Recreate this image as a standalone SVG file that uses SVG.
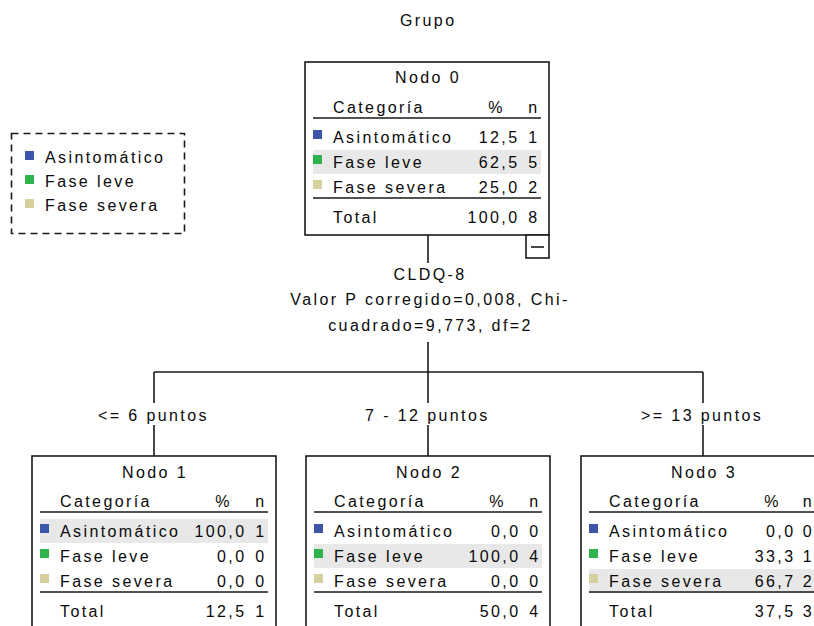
<svg xmlns="http://www.w3.org/2000/svg" width="814" height="626" viewBox="0 0 814 626">
<style>
text{font-family:"Liberation Sans",Arial,sans-serif;font-size:16px;letter-spacing:2.4px;fill:#0a0a0a}
.m{text-anchor:middle}
.e{text-anchor:end}
.box{fill:#fff;stroke:#1a1a1a;stroke-width:1.6}
.ln{stroke:#1a1a1a;stroke-width:1.6;fill:none}
.hl{fill:#e8e8e8}
.c1{fill:#3d55a8}
.c2{fill:#2db34c}
.c3{fill:#d6d09c}
</style>
<rect width="814" height="626" fill="#fff"/>
<text x="400" y="26">Grupo</text>

<g id="legend">
<rect x="11.5" y="133.5" width="173" height="100" fill="none" stroke="#1a1a1a" stroke-width="1.6" stroke-dasharray="7 5"/>
<rect class="c1" x="25" y="151" width="9" height="9"/><text x="45" y="163">Asintomático</text>
<rect class="c2" x="25" y="175" width="9" height="9"/><text x="45" y="187">Fase leve</text>
<rect class="c3" x="25" y="199" width="9" height="9"/><text x="45" y="211">Fase severa</text>
</g>

<g id="connectors">
<line class="ln" x1="428" y1="235" x2="428" y2="263"/>
<line class="ln" x1="428" y1="342" x2="428" y2="372"/>
<line class="ln" x1="154" y1="372" x2="703" y2="372"/>
<line class="ln" x1="154" y1="372" x2="154" y2="403"/>
<line class="ln" x1="154" y1="425" x2="154" y2="456"/>
<line class="ln" x1="428" y1="372" x2="428" y2="403"/>
<line class="ln" x1="428" y1="425" x2="428" y2="456"/>
<line class="ln" x1="703" y1="372" x2="703" y2="403"/>
<line class="ln" x1="703" y1="425" x2="703" y2="456"/>
<text class="m" x="430" y="280">CLDQ-8</text>
<text class="m" x="430" y="305">Valor P corregido=0,008, Chi-</text>
<text class="m" x="430.5" y="331">cuadrado=9,773, df=2</text>
<text x="98" y="421">&lt;= 6 puntos</text>
<text x="365" y="421">7 - 12 puntos</text>
<text x="641" y="421">&gt;= 13 puntos</text>
</g>

<g id="node0" transform="translate(305,62)">
<rect class="box" x="0" y="0" width="244" height="173"/>
<rect class="hl" x="8" y="88" width="228" height="24"/>
<text class="m" x="123" y="21">Nodo 0</text>
<text x="28" y="51">Categoría</text><text class="e" x="200" y="51">%</text><text class="e" x="234.5" y="51">n</text>
<line class="ln" x1="8" y1="56" x2="236" y2="56"/>
<rect class="c1" x="8" y="68" width="9" height="9"/><text x="28" y="81">Asintomático</text><text class="e" x="214.5" y="81">12,5</text><text class="e" x="234.5" y="81">1</text>
<rect class="c2" x="8" y="93" width="9" height="9"/><text x="28" y="106">Fase leve</text><text class="e" x="214.5" y="106">62,5</text><text class="e" x="234.5" y="106">5</text>
<rect class="c3" x="8" y="118" width="9" height="9"/><text x="28" y="131">Fase severa</text><text class="e" x="214.5" y="131">25,0</text><text class="e" x="234.5" y="131">2</text>
<line class="ln" x1="8" y1="136" x2="236" y2="136"/>
<text x="28" y="161">Total</text><text class="e" x="214.5" y="161">100,0</text><text class="e" x="234.5" y="161">8</text>
<rect class="box" x="221" y="173" width="23" height="23"/>
<line class="ln" x1="226" y1="185" x2="239" y2="185"/>
</g>

<g id="node1" transform="translate(32,456)">
<rect class="box" x="0" y="0" width="244" height="173"/>
<rect class="hl" x="8" y="63" width="228" height="24"/>
<text class="m" x="123" y="22">Nodo 1</text>
<text x="28" y="51">Categoría</text><text class="e" x="200" y="51">%</text><text class="e" x="234.5" y="51">n</text>
<line class="ln" x1="8" y1="56" x2="236" y2="56"/>
<rect class="c1" x="8" y="68" width="9" height="9"/><text x="28" y="81">Asintomático</text><text class="e" x="214.5" y="81">100,0</text><text class="e" x="234.5" y="81">1</text>
<rect class="c2" x="8" y="93" width="9" height="9"/><text x="28" y="106">Fase leve</text><text class="e" x="214.5" y="106">0,0</text><text class="e" x="234.5" y="106">0</text>
<rect class="c3" x="8" y="118" width="9" height="9"/><text x="28" y="131">Fase severa</text><text class="e" x="214.5" y="131">0,0</text><text class="e" x="234.5" y="131">0</text>
<line class="ln" x1="8" y1="136" x2="236" y2="136"/>
<text x="28" y="161">Total</text><text class="e" x="214.5" y="161">12,5</text><text class="e" x="234.5" y="161">1</text>
</g>

<g id="node2" transform="translate(306,456)">
<rect class="box" x="0" y="0" width="244" height="173"/>
<rect class="hl" x="8" y="88" width="228" height="24"/>
<text class="m" x="123" y="22">Nodo 2</text>
<text x="28" y="51">Categoría</text><text class="e" x="200" y="51">%</text><text class="e" x="234.5" y="51">n</text>
<line class="ln" x1="8" y1="56" x2="236" y2="56"/>
<rect class="c1" x="8" y="68" width="9" height="9"/><text x="28" y="81">Asintomático</text><text class="e" x="214.5" y="81">0,0</text><text class="e" x="234.5" y="81">0</text>
<rect class="c2" x="8" y="93" width="9" height="9"/><text x="28" y="106">Fase leve</text><text class="e" x="214.5" y="106">100,0</text><text class="e" x="234.5" y="106">4</text>
<rect class="c3" x="8" y="118" width="9" height="9"/><text x="28" y="131">Fase severa</text><text class="e" x="214.5" y="131">0,0</text><text class="e" x="234.5" y="131">0</text>
<line class="ln" x1="8" y1="136" x2="236" y2="136"/>
<text x="28" y="161">Total</text><text class="e" x="214.5" y="161">50,0</text><text class="e" x="234.5" y="161">4</text>
</g>

<g id="node3" transform="translate(581,456)">
<rect class="box" x="0" y="0" width="244" height="173"/>
<rect class="hl" x="8" y="113" width="228" height="24"/>
<text class="m" x="123" y="22">Nodo 3</text>
<text x="28" y="51">Categoría</text><text class="e" x="200" y="51">%</text><text class="e" x="233" y="51">n</text>
<line class="ln" x1="8" y1="56" x2="236" y2="56"/>
<rect class="c1" x="8" y="68" width="9" height="9"/><text x="28" y="81">Asintomático</text><text class="e" x="214.5" y="81">0,0</text><text class="e" x="233" y="81">0</text>
<rect class="c2" x="8" y="93" width="9" height="9"/><text x="28" y="106">Fase leve</text><text class="e" x="214.5" y="106">33,3</text><text class="e" x="233" y="106">1</text>
<rect class="c3" x="8" y="118" width="9" height="9"/><text x="28" y="131">Fase severa</text><text class="e" x="214.5" y="131">66,7</text><text class="e" x="233" y="131">2</text>
<line class="ln" x1="8" y1="136" x2="236" y2="136"/>
<text x="28" y="161">Total</text><text class="e" x="214.5" y="161">37,5</text><text class="e" x="233" y="161">3</text>
</g>
</svg>
